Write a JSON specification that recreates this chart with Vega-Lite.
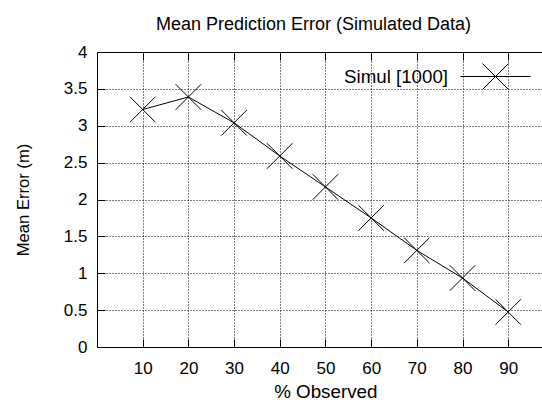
{
  "$schema": "https://vega.github.io/schema/vega-lite/v6.json",
  "width": 445,
  "height": 295,
  "autosize": {"type": "none"},
  "padding": {"left": 97, "top": 52, "right": 0, "bottom": 56},
  "background": "white",
  "title": {
    "text": "Mean Prediction Error (Simulated Data)",
    "font": "Liberation Sans",
    "fontSize": 18,
    "fontWeight": "normal",
    "color": "black",
    "anchor": "middle",
    "baseline": "alphabetic",
    "dx": -6,
    "offset": -5
  },
  "config": {
    "view": {"stroke": null},
    "font": "Liberation Sans",
    "axis": {
      "domainColor": "black",
      "domainWidth": 1,
      "tickColor": "black",
      "tickSize": -8,
      "tickWidth": 1,
      "gridColor": "black",
      "gridDash": [1, 2],
      "gridOpacity": 1,
      "gridWidth": 1,
      "labelColor": "black",
      "labelFont": "Liberation Sans",
      "labelFontSize": 17,
      "titleColor": "black",
      "titleFont": "Liberation Sans",
      "titleFontSize": 17,
      "titleFontWeight": "normal"
    }
  },
  "data": {
    "values": [
      {"observed": 10, "error": 3.22, "series": "Simul [1000]"},
      {"observed": 20, "error": 3.39, "series": "Simul [1000]"},
      {"observed": 30, "error": 3.04, "series": "Simul [1000]"},
      {"observed": 40, "error": 2.59, "series": "Simul [1000]"},
      {"observed": 50, "error": 2.17, "series": "Simul [1000]"},
      {"observed": 60, "error": 1.75, "series": "Simul [1000]"},
      {"observed": 70, "error": 1.31, "series": "Simul [1000]"},
      {"observed": 80, "error": 0.935, "series": "Simul [1000]"},
      {"observed": 90, "error": 0.475, "series": "Simul [1000]"}
    ]
  },
  "encoding": {
    "y": {
      "field": "error",
      "type": "quantitative",
      "scale": {"domain": [0, 4], "nice": false, "zero": false},
      "axis": {
        "values": [0, 0.5, 1, 1.5, 2, 2.5, 3, 3.5, 4],
        "format": "~g",
        "grid": true,
        "labelPadding": 18,
        "title": "Mean Error (m)",
        "titleFontSize": 16.6,
        "titleAngle": -90,
        "titleX": -69,
        "titleY": 147.5,
        "titleAlign": "center",
        "titleBaseline": "alphabetic"
      }
    }
  },
  "resolve": {"axis": {"x": "independent"}},
  "layer": [
    {
      "mark": {"type": "line", "color": "black", "strokeWidth": 1},
      "encoding": {
        "x": {
          "field": "observed",
          "type": "quantitative",
          "scale": {"domain": [0, 97.4], "nice": false, "zero": false},
          "axis": {
            "orient": "bottom",
            "values": [10, 20, 30, 40, 50, 60, 70, 80, 90],
            "grid": true,
            "labelBaseline": "alphabetic",
            "labelPadding": 34,
            "title": "% Observed",
            "titleFontSize": 18.8,
            "titleX": 228.3,
            "titleY": 50,
            "titleAlign": "center",
            "titleBaseline": "alphabetic"
          }
        },
        "color": {
          "field": "series",
          "type": "nominal",
          "scale": {"range": ["black"]},
          "legend": {
            "orient": "none",
            "legendX": 385,
            "legendY": 11,
            "title": null,
            "padding": 0,
            "symbolType": "M-2.7,0L2.7,0M-1,-1L1,1M-1,1L1,-1",
            "symbolSize": 676,
            "symbolStrokeColor": "black",
            "symbolStrokeWidth": 1,
            "symbolFillColor": "transparent",
            "labelAlign": "right",
            "labelOffset": -61,
            "labelFont": "Liberation Sans",
            "labelFontSize": 18.7,
            "labelColor": "black"
          }
        }
      }
    },
    {
      "mark": {
        "type": "point",
        "shape": "M-1,-1L1,1M-1,1L1,-1",
        "filled": false,
        "stroke": "black",
        "strokeWidth": 1,
        "size": 650,
        "opacity": 1
      },
      "encoding": {
        "x": {
          "field": "observed",
          "type": "quantitative",
          "axis": {
            "orient": "top",
            "values": [10, 20, 30, 40, 50, 60, 70, 80, 90],
            "grid": false,
            "labels": false,
            "title": null
          }
        }
      }
    }
  ]
}
